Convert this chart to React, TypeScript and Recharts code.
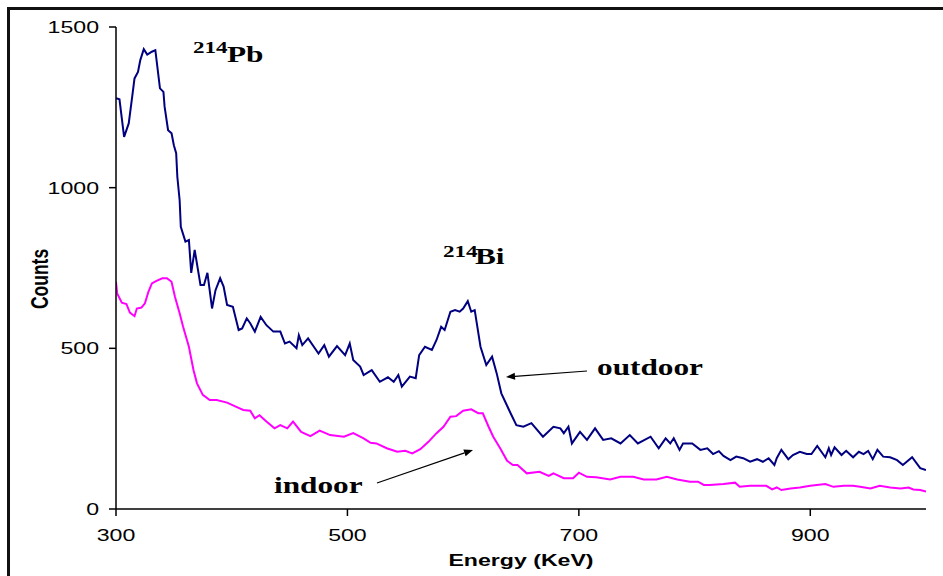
import { LineChart, Line, XAxis, YAxis, Label } from "recharts";

// gamma spectrum
const outdoorEnergy = [
  300, 303, 307, 311, 314, 316, 319, 321, 324, 327, 331, 334, 338, 341, 342, 345, 348, 350, 352, 353,
  355, 356, 360, 363, 365, 368, 373, 376, 379, 383, 386, 390, 393, 396, 401, 406, 409, 413, 416, 420,
  425, 430, 436, 442, 446, 450, 456, 458, 461, 466, 475, 480, 484, 491, 498, 502, 505, 511, 514, 521,
  528, 535, 540, 544, 547, 554, 559, 562, 567, 573, 577, 581, 584, 589, 593, 597, 600, 604, 607, 610,
  615, 620, 625, 629, 633, 641, 646, 652, 659, 669, 678, 684, 687, 691, 694, 701, 707, 714, 721, 728,
  736, 744, 751, 762, 769, 775, 779, 782, 787, 790, 798, 805, 811, 816, 821, 825, 831, 836, 842, 848,
  854, 859, 864, 869, 871, 875, 881, 885, 891, 897, 901, 906, 913, 916, 918, 921, 927, 931, 937, 942,
  946, 950, 954, 958, 963, 969, 975, 980, 988, 995, 1000,
];
const outdoorCounts = [
  1278, 1275, 1158, 1200, 1283, 1340, 1360, 1397, 1431, 1414, 1423, 1428, 1309, 1298, 1252, 1179, 1169, 1132, 1107, 1034,
  961, 878, 832, 837, 735, 806, 697, 697, 735, 624, 681, 718, 692, 635, 629, 557, 562, 593, 578, 552,
  598, 572, 552, 552, 515, 521, 500, 541, 510, 531, 484, 510, 474, 507, 479, 515, 464, 443, 417, 432,
  396, 410, 396, 417, 381, 412, 407, 479, 505, 495, 526, 567, 557, 614, 619, 614, 624, 647, 614, 619,
  505, 448, 474, 422, 360, 298, 261, 256, 267, 225, 256, 251, 236, 256, 204, 240, 215, 251, 215, 220,
  204, 230, 204, 225, 189, 220, 204, 220, 184, 204, 204, 184, 189, 171, 180, 165, 152, 163, 158, 147,
  155, 147, 158, 137, 158, 184, 155, 168, 178, 171, 171, 196, 161, 189, 168, 192, 168, 181, 161, 178,
  171, 181, 155, 184, 163, 161, 152, 137, 161, 127, 121,
];

const indoorEnergy = [
  300, 301, 305, 309, 312, 316, 318, 322, 325, 328, 331, 335, 340, 344, 348, 351, 355, 358, 363, 367,
  370, 375, 381, 387, 396, 404, 410, 416, 420, 424, 430, 437, 442, 448, 453, 460, 468, 476, 485, 497,
  505, 514, 520, 525, 534, 543, 550, 556, 563, 570, 577, 583, 589, 594, 600, 607, 613, 617, 622, 626,
  632, 638, 643, 647, 655, 666, 674, 678, 687, 695, 700, 707, 715, 727, 736, 747, 756, 767, 776, 785,
  796, 803, 808, 813, 825, 835, 839, 848, 862, 867, 871, 875, 883, 891, 900, 913, 920, 929, 937, 943,
  952, 960, 969, 978, 985, 989, 995, 1000,
];
const indoorCounts = [
  707, 671, 642, 638, 611, 600, 624, 627, 640, 676, 702, 710, 718, 718, 707, 660, 609, 567, 505, 432,
  391, 355, 339, 339, 331, 318, 308, 306, 282, 292, 272, 251, 261, 251, 272, 240, 227, 244, 230, 225,
  236, 220, 206, 204, 189, 178, 181, 173, 186, 209, 236, 256, 287, 289, 306, 310, 298, 298, 256, 225,
  189, 150, 137, 137, 111, 116, 103, 111, 96, 96, 113, 100, 99, 92, 100, 100, 92, 92, 100, 92,
  85, 85, 75, 75, 78, 82, 69, 72, 72, 61, 67, 59, 64, 67, 72, 78, 69, 72, 72, 69,
  64, 72, 67, 64, 67, 61, 59, 54,
];

const energyTicks = [300, 500, 700, 900];
const countTicks = [0, 500, 1000, 1500];

const outdoorData = outdoorEnergy.map((e, i) => ({ e, c: outdoorCounts[i] }));
const indoorData = indoorEnergy.map((e, i) => ({ e, c: indoorCounts[i] }));

// the original picture is stretched sideways, so text gets scaled too
const SX = 1.36;
const sans = "'Liberation Sans', Arial, sans-serif";
const serif = "'Liberation Serif', 'Times New Roman', serif";

const YTick = ({ x, y, payload }: any) => (
  <text
    transform={`translate(${x},${y}) scale(${SX},1)`}
    textAnchor="end"
    dy="0.35em"
    fontSize={17}
    fontFamily={sans}
    fill="#000"
  >
    {payload.value}
  </text>
);

const XTick = ({ x, y, payload }: any) => (
  <text
    transform={`translate(${x},${y}) scale(${SX},1)`}
    textAnchor="middle"
    dy="0.71em"
    fontSize={17}
    fontFamily={sans}
    fill="#000"
  >
    {payload.value}
  </text>
);

const Arrow = ({ x1, y1, x2, y2 }: { x1: number; y1: number; x2: number; y2: number }) => {
  const a = Math.atan2(y2 - y1, x2 - x1);
  const len = 9;
  const w = 3.5;
  const bx = x2 - len * Math.cos(a);
  const by = y2 - len * Math.sin(a);
  const px = -Math.sin(a) * w;
  const py = Math.cos(a) * w;
  return (
    <g>
      <line x1={x1} y1={y1} x2={bx} y2={by} stroke="#000" strokeWidth={1.2} />
      <polygon points={`${x2},${y2} ${bx + px},${by + py} ${bx - px},${by - py}`} fill="#000" />
    </g>
  );
};

const App = () => {
  return (
    <div style={{ position: "relative", width: 943, height: 576, background: "#fff" }}>
      <style>{"html,body{margin:0;padding:0;overflow:hidden;}"}</style>
      <div
        style={{
          position: "absolute",
          left: 7,
          top: 7,
          width: 936,
          height: 569,
          borderTop: "3px solid #111",
          borderLeft: "3px solid #111",
          boxSizing: "border-box",
        }}
      />
      <div style={{ position: "absolute", left: 0, top: 0 }}>
        <LineChart width={943} height={576} margin={{ top: 27, right: 17, bottom: 37, left: 56 }}>
          <XAxis
            dataKey="e"
            type="number"
            domain={[300, 1000]}
            ticks={energyTicks}
            allowDataOverflow
            height={30}
            tickSize={7}
            tickMargin={13}
            axisLine={{ stroke: "#000", strokeWidth: 1.5 }}
            tickLine={{ stroke: "#000", strokeWidth: 1.5 }}
            tick={<XTick />}
          >
            <Label
              content={() => (
                <text
                  transform={`translate(521,566) scale(${SX},1)`}
                  textAnchor="middle"
                  fontSize={17}
                  fontWeight="bold"
                  fontFamily={sans}
                  fill="#000"
                >
                  Energy (KeV)
                </text>
              )}
            />
          </XAxis>
          <YAxis
            type="number"
            domain={[0, 1500]}
            ticks={countTicks}
            width={60}
            tickSize={7}
            tickMargin={10}
            axisLine={{ stroke: "#000", strokeWidth: 1.5 }}
            tickLine={{ stroke: "#000", strokeWidth: 1.5 }}
            tick={<YTick />}
          >
            <Label
              content={() => (
                <text
                  transform={`translate(48,279) scale(${SX},1) rotate(-90)`}
                  textAnchor="middle"
                  fontSize={17.5}
                  fontWeight="bold"
                  fontFamily={sans}
                  fill="#000"
                >
                  Counts
                </text>
              )}
            />
          </YAxis>
          <Line
            data={indoorData}
            dataKey="c"
            type="linear"
            stroke="#ff00ff"
            strokeWidth={2}
            dot={false}
            isAnimationActive={false}
          />
          <Line
            data={outdoorData}
            dataKey="c"
            type="linear"
            stroke="#000080"
            strokeWidth={2}
            dot={false}
            isAnimationActive={false}
          />
        </LineChart>
      </div>
      <svg
        width={943}
        height={576}
        style={{ position: "absolute", left: 0, top: 0, pointerEvents: "none" }}
      >
        <g fontFamily={serif} fontWeight="bold" fill="#000">
          <text transform={`translate(193,53) scale(${SX},1)`} fontSize={17}>214</text>
          <text transform={`translate(227,62) scale(${SX},1)`} fontSize={23}>Pb</text>
          <text transform={`translate(443,257) scale(${SX},1)`} fontSize={17}>214</text>
          <text transform={`translate(475,264) scale(${SX},1)`} fontSize={23}>Bi</text>
          <text transform={`translate(597,375) scale(${SX},1)`} fontSize={23}>outdoor</text>
          <text transform={`translate(274,493) scale(${SX},1)`} fontSize={23}>indoor</text>
        </g>
        <Arrow x1={587} y1={371} x2={506} y2={377} />
        <Arrow x1={377} y1={483} x2={473} y2={450} />
      </svg>
    </div>
  );
};

export default App;
